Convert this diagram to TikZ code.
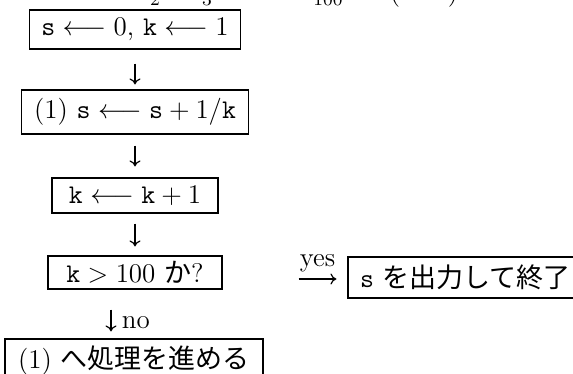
\RequirePackage{fix-cm}
\documentclass[tikz,border=0pt]{standalone}
\usepackage{fontspec}
\newfontfamily\jp{Noto Sans CJK JP}
\usetikzlibrary{calc,arrows.meta}
\tikzset{
  box/.style={draw, line width=0.55pt, inner sep=0pt, align=center, font=\fontsize{13.5}{16}\selectfont},
  arr/.style={-{To[length=3pt,width=5.5pt]}, line width=0.6pt},
  lab/.style={inner sep=0pt, font=\fontsize{13.5}{16}\selectfont},
  frag/.style={inner sep=0pt, anchor=base, font=\fontsize{9.45}{11}\selectfont},
}
\begin{document}
\begin{tikzpicture}[x=0.5pt,y=-0.5pt]
\useasboundingbox (0,0) rectangle (573,374);
\clip (0,0) rectangle (573,374);
% fragments of a formula cut off at the top
\node[frag] (f2) at (155,6) {2};
\node[frag] (f3) at (207,6) {3};
\node[frag] (f100) at (328,6) {100};
\node[lab, anchor=base] (fl) at (395,0.5) {(};
\node[lab, anchor=base] (fr) at (453,0.5) {)};
% boxes
\node[box, minimum width=105.5pt, minimum height=19.5pt] (b1) at (135,29.5)
  {$\mathtt{s}\longleftarrow 0$, $\mathtt{k}\longleftarrow 1$};
\node[box, minimum width=113.5pt, minimum height=22pt] (b2) at (135,112)
  {(1) $\mathtt{s}\longleftarrow \mathtt{s}+1/\mathtt{k}$};
\node[box, minimum width=83pt, minimum height=17.5pt] (b3) at (135,195.5)
  {$\mathtt{k}\longleftarrow \mathtt{k}+1$};
\node[box, minimum width=87pt, minimum height=16.5pt] (b4) at (135,272.5)
  {$\mathtt{k}>100$ {\jp か}?};
\node[box, minimum width=129pt, minimum height=22pt] (b5) at (134,361)
  {(1) {\jp へ処理を進める}};
\node[box, minimum width=117.5pt, minimum height=20.5pt] (b6) at (465.5,277.5)
  {\texttt{s} {\jp を出力して終了}};
% connectors
\draw[arr] ($(b1.south)+(0,-7pt)$) -- ($(b2.north)+(0,2.5pt)$);
\draw[arr] ($(b2.south)+(0,-5.5pt)$) -- ($(b3.north)+(0,5.5pt)$);
\draw[arr] ($(b3.south)+(0,-5pt)$) -- ($(b4.north)+(0,4.5pt)$);
\draw[arr] ($(b4.south)+(-12pt,-10pt)$) -- ($(b5.north)+(-11.5pt,3.5pt)$);
\node[lab, anchor=base west] (no) at (121.5,328) {no};
\draw[arr] ($(b4.east)+(38pt,-3.25pt)$) -- node[lab, midway, anchor=base, yshift=6.2pt] (yes) {yes} ($(b6.west)+(-5.5pt,-0.75pt)$);
\end{tikzpicture}
\end{document}
